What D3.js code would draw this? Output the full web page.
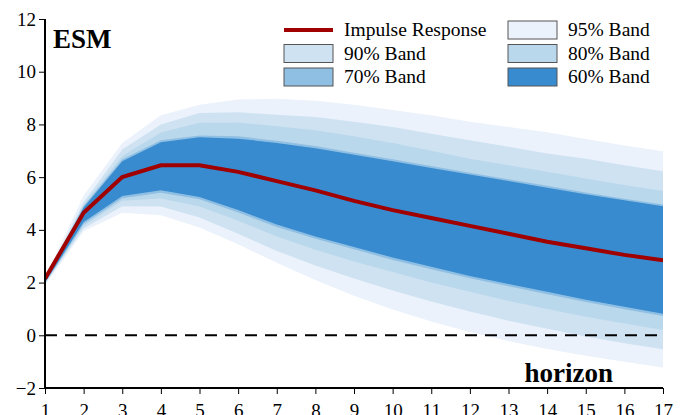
<!DOCTYPE html>
<html>
<head>
<meta charset="utf-8">
<script src="https://cdn.jsdelivr.net/npm/d3@7"></script>
<style>
  body { margin: 0; background: #fff; }
  svg { font-family: "Liberation Serif", "DejaVu Serif", serif; }
</style>
</head>
<body>
<svg width="683" height="415"></svg>
<script>
// horizons and impulse response
var horizon = [1, 2, 3, 4, 5, 6, 7, 8, 9, 10, 11, 12, 13, 14, 15, 16, 17];
var irf = [2.15, 4.65, 6.0, 6.45, 6.45, 6.2, 5.85, 5.5, 5.1, 4.75, 4.45, 4.15, 3.85, 3.55, 3.3, 3.05, 2.85];

// band edges (upper / lower)
var up95 = [2.2, 5.3, 7.3, 8.35, 8.75, 8.95, 8.97, 8.9, 8.75, 8.55, 8.35, 8.1, 7.9, 7.7, 7.45, 7.2, 6.98];
var lo95 = [1.9, 3.95, 4.65, 4.55, 4.09, 3.45, 2.75, 2.1, 1.5, 0.98, 0.52, 0.12, -0.22, -0.52, -0.78, -1.0, -1.22];
var up90 = [2.15, 5.05, 7.05, 8.0, 8.43, 8.46, 8.37, 8.28, 8.1, 7.9, 7.65, 7.4, 7.15, 6.9, 6.7, 6.45, 6.22];
var lo90 = [1.95, 4.05, 4.9, 4.89, 4.47, 3.85, 3.2, 2.65, 2.15, 1.7, 1.28, 0.9, 0.55, 0.25, -0.05, -0.3, -0.53];
var up80 = [2.1, 4.95, 6.8, 7.69, 8.06, 8.07, 7.93, 7.78, 7.55, 7.3, 7.0, 6.7, 6.45, 6.2, 5.95, 5.7, 5.47];
var lo80 = [1.98, 4.15, 5.1, 5.19, 4.89, 4.35, 3.75, 3.25, 2.8, 2.4, 2.0, 1.65, 1.3, 1.0, 0.7, 0.45, 0.2];
var up70 = [2.07, 4.9, 6.68, 7.4, 7.58, 7.55, 7.38, 7.18, 6.93, 6.68, 6.42, 6.17, 5.92, 5.67, 5.42, 5.18, 4.96];
var lo70 = [1.99, 4.22, 5.2, 5.41, 5.16, 4.66, 4.11, 3.66, 3.26, 2.86, 2.51, 2.16, 1.86, 1.56, 1.26, 0.99, 0.73];
var up60 = [2.05, 4.85, 6.6, 7.32, 7.51, 7.46, 7.3, 7.1, 6.85, 6.6, 6.35, 6.1, 5.85, 5.6, 5.35, 5.12, 4.9];
var lo60 = [2.0, 4.3, 5.28, 5.5, 5.25, 4.75, 4.2, 3.75, 3.35, 2.95, 2.6, 2.25, 1.95, 1.65, 1.35, 1.08, 0.82];

var yTicks = [-2, 0, 2, 4, 6, 8, 10, 12];

var bands = [
  {name: "95% Band", up: up95, lo: lo95, color: "#ebf2fc"},
  {name: "90% Band", up: up90, lo: lo90, color: "#cfe2f2"},
  {name: "80% Band", up: up80, lo: lo80, color: "#bad8ec"},
  {name: "70% Band", up: up70, lo: lo70, color: "#90bfe4"},
  {name: "60% Band", up: up60, lo: lo60, color: "#378bce"}
];

var svg = d3.select("svg");
var mLeft = 45, mRight = 663, mTop = 19, mBottom = 388;

var x = d3.scaleLinear().domain([1, 17]).range([mLeft, mRight]);
var y = d3.scaleLinear().domain([-2, 12]).range([mBottom, mTop]);

svg.append("clipPath").attr("id", "plot")
  .append("rect").attr("x", mLeft).attr("y", mTop)
  .attr("width", mRight - mLeft).attr("height", mBottom - mTop);

var plot = svg.append("g").attr("clip-path", "url(#plot)");

// bands, widest first
bands.forEach(function(b) {
  var area = d3.area()
    .x(function(d, i) { return x(horizon[i]); })
    .y0(function(d, i) { return y(b.lo[i]); })
    .y1(function(d, i) { return y(b.up[i]); });
  plot.append("path")
    .datum(horizon)
    .attr("d", area)
    .attr("fill", b.color);
});

// zero line
plot.append("line")
  .attr("x1", mLeft).attr("x2", mRight)
  .attr("y1", y(0)).attr("y2", y(0))
  .attr("stroke", "#000")
  .attr("stroke-width", 2)
  .attr("stroke-dasharray", "12,8");

// impulse response
var line = d3.line()
  .x(function(d, i) { return x(horizon[i]); })
  .y(function(d) { return y(d); });
plot.append("path")
  .datum(irf)
  .attr("d", line)
  .attr("fill", "none")
  .attr("stroke", "#a00000")
  .attr("stroke-width", 4);

// axes
var yAxis = svg.append("g")
  .attr("transform", "translate(" + mLeft + ",0)")
  .call(d3.axisLeft(y).tickValues(yTicks).tickSize(6).tickPadding(3));
var xAxis = svg.append("g")
  .attr("transform", "translate(0," + mBottom + ")")
  .call(d3.axisBottom(x).tickValues(horizon).tickSize(6).tickPadding(10));

[xAxis, yAxis].forEach(function(a) {
  a.select(".domain").attr("stroke", "#000").attr("stroke-width", 2);
  a.selectAll(".tick line").attr("stroke", "#000").attr("stroke-width", 1);
  a.selectAll(".tick text")
    .attr("fill", "#000")
    .style("font-family", "'Liberation Serif', serif")
    .style("font-size", "19px");
});
// remove outer ticks on domain paths
yAxis.select(".domain").attr("d", "M0," + mTop + "V" + mBottom);
xAxis.select(".domain").attr("d", "M" + mLeft + ",0H" + mRight);

// labels
svg.append("text")
  .attr("x", 53).attr("y", 48)
  .style("font-size", "27px").style("font-weight", "bold")
  .text("ESM");
svg.append("text")
  .attr("x", 613).attr("y", 382)
  .attr("text-anchor", "end")
  .style("font-size", "27px").style("font-weight", "bold")
  .text("horizon");

// legend
var legendItems = [
  {name: "Impulse Response", col: 0, row: 0, type: "line"},
  {name: "95% Band", col: 1, row: 0, color: bands[0].color},
  {name: "90% Band", col: 0, row: 1, color: bands[1].color},
  {name: "80% Band", col: 1, row: 1, color: bands[2].color},
  {name: "70% Band", col: 0, row: 2, color: bands[3].color},
  {name: "60% Band", col: 1, row: 2, color: bands[4].color}
];
var colX = [284, 508], rowY = [30, 53.5, 77];
var leg = svg.append("g");
legendItems.forEach(function(d) {
  var gx = colX[d.col], gy = rowY[d.row];
  if (d.type === "line") {
    leg.append("line")
      .attr("x1", gx).attr("x2", gx + 49)
      .attr("y1", gy).attr("y2", gy)
      .attr("stroke", "#a00000").attr("stroke-width", 4);
  } else {
    leg.append("rect")
      .attr("x", gx).attr("y", gy - 9)
      .attr("width", 49).attr("height", 18)
      .attr("fill", d.color)
      .attr("stroke", "#555").attr("stroke-width", 1);
  }
  leg.append("text")
    .attr("x", gx + 60).attr("y", gy + 6)
    .style("font-size", "19.5px")
    .text(d.name);
});
</script>
</body>
</html>
